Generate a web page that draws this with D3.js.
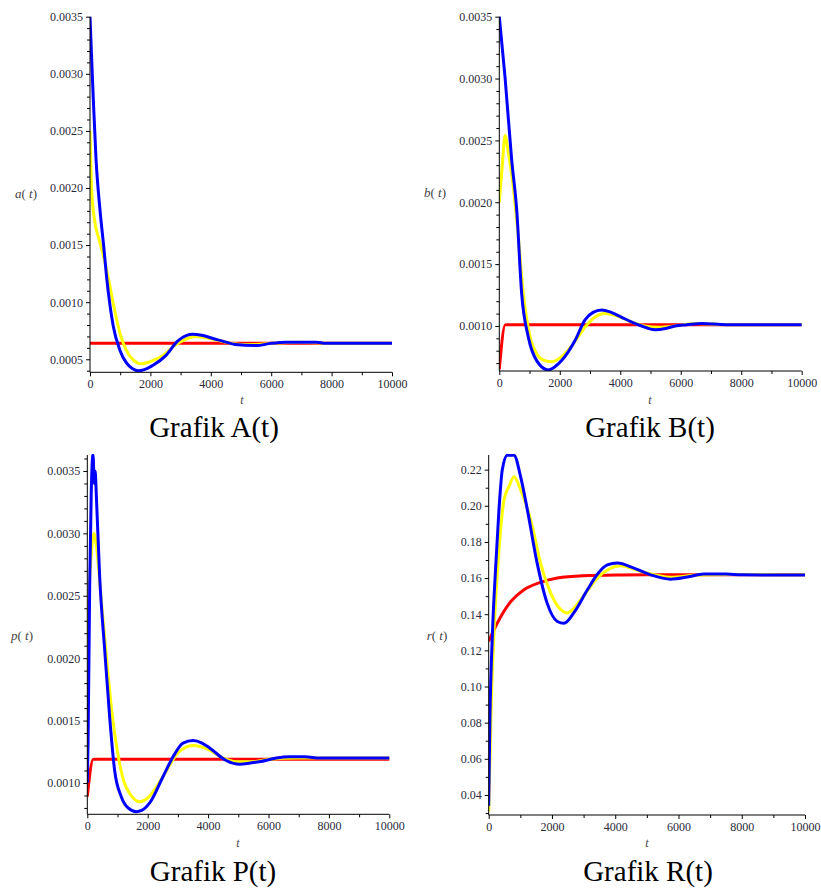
<!DOCTYPE html>
<html><head><meta charset="utf-8">
<script src="https://cdn.jsdelivr.net/npm/d3@7"></script>
<style>
html,body{margin:0;padding:0;background:#fff;}
svg{display:block;}
.tick text{font-family:"Liberation Serif","Times New Roman",serif;font-size:12px;fill:#2a2a3a;}
</style></head>
<body>
<svg id="c" width="821" height="889"></svg>
<script>
// ---------- DATA ----------
const xTicks = [0, 2000, 4000, 6000, 8000, 10000];
const xMinorTicks = [1000, 3000, 5000, 7000, 9000];

const aTicks = [0.0005, 0.0010, 0.0015, 0.0020, 0.0025, 0.0030, 0.0035];
const bTicks = [0.0010, 0.0015, 0.0020, 0.0025, 0.0030, 0.0035];
const pTicks = [0.0010, 0.0015, 0.0020, 0.0025, 0.0030, 0.0035];
const rTicks = [0.04, 0.06, 0.08, 0.10, 0.12, 0.14, 0.16, 0.18, 0.20, 0.22];

const titles = ["Grafik A(t)", "Grafik B(t)", "Grafik P(t)", "Grafik R(t)"];
const yNames = ["a", "b", "p", "r"];

// A(t)
const aRed = [[0,0.00064],[10000,0.00064]];
const aYellow = [[0,0.0025],[50,0.00200],[150,0.00172],[300,0.00155],[450,0.00140],[600,0.00122],[800,0.00095],[1000,0.00072],[1200,0.00058],[1450,0.00049],[1700,0.00046],[2000,0.00048],[2400,0.00053],[2800,0.00062],[3200,0.00068],[3500,0.00070],[4000,0.00068],[4500,0.00065],[5000,0.00063],[5500,0.00063],[6000,0.00064],[7000,0.00065],[8000,0.00064],[10000,0.00064]];
const aBlue = [[0,0.0035],[60,0.0031],[110,0.00277],[200,0.00225],[330,0.00181],[450,0.00150],[550,0.00122],[770,0.00079],[990,0.00058],[1200,0.00047],[1400,0.00042],[1600,0.00040],[1800,0.00041],[2100,0.00045],[2500,0.00053],[2900,0.00066],[3200,0.00071],[3400,0.00072],[3700,0.00071],[4100,0.00068],[4500,0.00065],[4800,0.00063],[5500,0.00062],[6000,0.00064],[6500,0.00065],[7500,0.00065],[7800,0.00064],[10000,0.00064]];

// B(t)
const bRed = [[0,0.00065],[200,0.00101],[10000,0.00101]];
const bYellow = [[0,0.0020],[100,0.0023],[190,0.00254],[300,0.0024],[450,0.00215],[600,0.0018],[800,0.00125],[1000,0.00093],[1250,0.00077],[1500,0.00072],[1730,0.00071],[2000,0.00074],[2400,0.00084],[2800,0.00098],[3100,0.00106],[3500,0.0011],[3900,0.00108],[4400,0.00103],[4800,0.00100],[5300,0.00099],[5800,0.00100],[6500,0.00102],[7500,0.00101],[10000,0.00101]];
const bBlue = [[0,0.0035],[190,0.00301],[410,0.00234],[575,0.00194],[740,0.00126],[960,0.00091],[1235,0.00072],[1620,0.000645],[2060,0.00072],[2500,0.00088],[2835,0.00105],[3100,0.00111],[3385,0.00113],[3700,0.00111],[4050,0.00107],[4400,0.00103],[4710,0.00100],[5150,0.00097],[5500,0.00098],[5810,0.00100],[6200,0.00101],[6690,0.00102],[7500,0.00101],[8500,0.00101],[10000,0.00101]];

// P(t)
const pRed = [[0,0.00089],[200,0.00119],[10000,0.00119]];
const pYellow = [[0,0.0021],[50,0.0025],[120,0.0028],[220,0.0030],[300,0.0029],[450,0.0025],[600,0.0021],[800,0.0016],[1000,0.00125],[1200,0.00102],[1450,0.0009],[1720,0.00085],[2000,0.00088],[2500,0.00105],[3000,0.00124],[3500,0.0013],[4000,0.00127],[4500,0.0012],[5000,0.00117],[5500,0.00117],[6000,0.00119],[7000,0.0012],[8000,0.0012],[10000,0.0012]];
const pBlue = [[0,0.0010],[25,0.00132],[80,0.0026],[130,0.00332],[190,0.00363],[230,0.0034],[260,0.0035],[300,0.0033],[410,0.00265],[575,0.00207],[740,0.00153],[905,0.0011],[1125,0.00089],[1350,0.0008],[1620,0.00077],[1800,0.00078],[2065,0.00084],[2505,0.00105],[2840,0.00121],[3170,0.00132],[3500,0.00134],[3800,0.00132],[4050,0.00128],[4600,0.00118],[5045,0.00115],[5400,0.00116],[5700,0.00117],[6260,0.0012],[6700,0.00121],[7200,0.00121],[7700,0.0012],[10000,0.0012]];

// R(t)
const rRed = [[0,0.125],[270,0.135],[700,0.147],[1115,0.1535],[1640,0.1576],[2170,0.16],[3000,0.1613],[4000,0.1617],[5000,0.1618],[10000,0.1618]];
const rYellow = [[0,0.031],[85,0.0928],[170,0.1314],[325,0.1756],[485,0.2033],[640,0.2106],[800,0.216],[1010,0.2088],[1330,0.192],[1645,0.168],[1960,0.1517],[2280,0.1425],[2485,0.1407],[2910,0.148],[3430,0.16],[4170,0.1668],[4800,0.1637],[5750,0.1605],[6500,0.1615],[7500,0.162],[10000,0.1618]];
const rBlue = [[0,0.034],[40,0.0835],[115,0.128],[220,0.166],[325,0.198],[430,0.22],[590,0.228],[800,0.228],[1010,0.216],[1220,0.198],[1535,0.168],[1850,0.146],[2170,0.136],[2380,0.135],[2700,0.141],[3120,0.1535],[3430,0.162],[3750,0.1673],[4070,0.1683],[4590,0.1655],[5120,0.1618],[5750,0.1594],[6280,0.1606],[6800,0.1622],[7500,0.1622],[8000,0.1618],[10000,0.1617]];

// ---------- DRAW ----------
const svg = d3.select("#c");

const panels = [
  {x0:90, x1:392, yTop:16.7, yBot:372.3, dom:[0.000386,0.0035], ticks:aTicks, minor:0.0001, fmt:4,
   series:[aRed,aYellow,aBlue], ylab:[26,194], tlab:[242,400], title:[214,437]},
  {x0:499.3, x1:801.7, yTop:16.7, yBot:371, dom:[0.000636,0.0035], ticks:bTicks, minor:0.0001, fmt:4,
   series:[bRed,bYellow,bBlue], ylab:[435,193], tlab:[650,400], title:[650,437]},
  {x0:87.3, x1:389.3, yTop:455, yBot:814.3, dom:[0.000749,0.003628], ticks:pTicks, minor:0.0001, fmt:4,
   series:[pRed,pYellow,pBlue], ylab:[22,636], tlab:[238,843], title:[213,881]},
  {x0:488.7, x1:805, yTop:455, yBot:815, dom:[0.0289,0.2281], ticks:rTicks, minor:0.01, fmt:2,
   series:[rRed,rYellow,rBlue], ylab:[437,636], tlab:[647,843], title:[648,881]}
];
const colors = ["#ff0000", "#ffff00", "#0000ff"];

panels.forEach((p, i) => {
  const g = svg.append("g");
  const x = d3.scaleLinear().domain([0, 10000]).range([p.x0, p.x1]);
  const y = d3.scaleLinear().domain(p.dom).range([p.yBot, p.yTop]);

  const clipId = "clip" + i;
  svg.append("clipPath").attr("id", clipId).append("rect")
    .attr("x", p.x0).attr("y", p.yTop - 1).attr("width", p.x1 - p.x0 + 2).attr("height", p.yBot - p.yTop + 1);

  const line = d3.line().x(d => x(d[0])).y(d => y(d[1])).curve(d3.curveMonotoneX);
  p.series.forEach((s, k) => {
    g.append("path").datum(s).attr("d", line)
      .attr("fill", "none").attr("stroke", colors[k]).attr("stroke-width", 3)
      .attr("stroke-linejoin", "round").attr("clip-path", `url(#${clipId})`);
  });

  // minor y ticks
  const minorVals = d3.range(Math.ceil(p.dom[0] / p.minor - 1e-6) * p.minor, p.dom[1] + 1e-9, p.minor)
    .filter(v => !p.ticks.some(t => Math.abs(t - v) < p.minor / 10));
  const yMinor = d3.axisLeft(y).tickValues(minorVals).tickSize(3).tickFormat("");
  g.append("g").attr("transform", `translate(${p.x0},0)`).call(yMinor)
    .call(a => a.select(".domain").remove())
    .selectAll("line").attr("stroke", "#000");

  const yAxis = d3.axisLeft(y).tickValues(p.ticks).tickSize(4).tickPadding(3)
    .tickFormat(d => d.toFixed(p.fmt));
  g.append("g").attr("transform", `translate(${p.x0},0)`).call(yAxis)
    .call(a => a.select(".domain").attr("d", `M0,${p.yTop}V${p.yBot}`).attr("stroke", "#000"))
    .selectAll("line").attr("stroke", "#000");

  const xMinor = d3.axisBottom(x).tickValues(xMinorTicks).tickSize(3).tickFormat("");
  g.append("g").attr("transform", `translate(0,${p.yBot})`).call(xMinor)
    .call(a => a.select(".domain").remove())
    .selectAll("line").attr("stroke", "#000");

  const xAxis = d3.axisBottom(x).tickValues(xTicks).tickSize(4).tickPadding(3).tickFormat(d3.format("d"));
  g.append("g").attr("transform", `translate(0,${p.yBot})`).call(xAxis)
    .call(a => a.select(".domain").attr("d", `M${p.x0},0H${p.x1}`).attr("stroke", "#000"))
    .selectAll("line").attr("stroke", "#000");

  // y-axis name
  const yl = g.append("text").attr("x", p.ylab[0]).attr("y", p.ylab[1] + 4)
    .attr("text-anchor", "middle")
    .attr("font-family", "Liberation Serif, Times New Roman, serif").attr("font-size", 13).attr("fill", "#444");
  yl.append("tspan").attr("font-style", "italic").text(yNames[i]);
  yl.append("tspan").text("(");
  yl.append("tspan").attr("font-style", "italic").text(" t");
  yl.append("tspan").text(")");

  // x-axis name
  g.append("text").attr("x", p.tlab[0]).attr("y", p.tlab[1] + 4)
    .attr("text-anchor", "middle").attr("font-style", "italic")
    .attr("font-family", "Liberation Serif, Times New Roman, serif").attr("font-size", 12).attr("fill", "#444")
    .text("t");

  // title
  g.append("text").attr("x", p.title[0]).attr("y", p.title[1])
    .attr("text-anchor", "middle")
    .attr("font-family", "Liberation Serif, Times New Roman, serif").attr("font-size", 29).attr("fill", "#000")
    .text(titles[i]);
});
</script>
</body></html>
